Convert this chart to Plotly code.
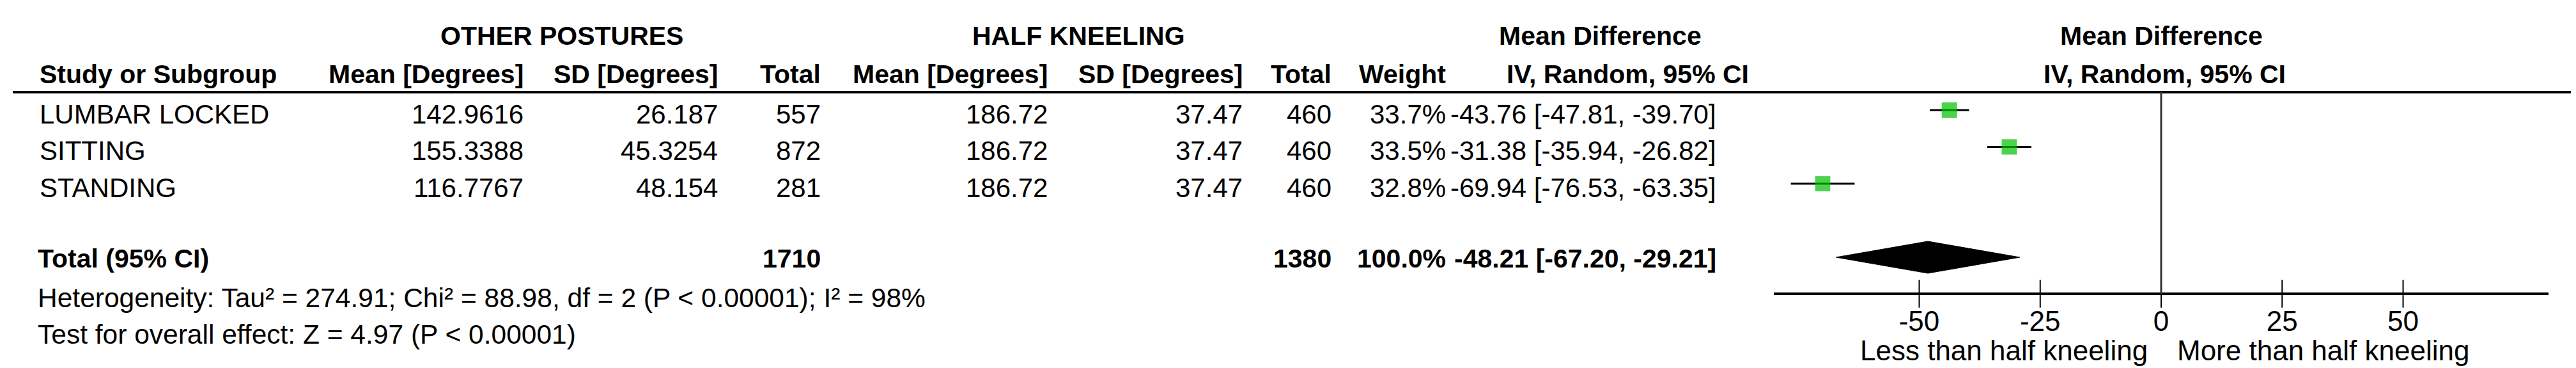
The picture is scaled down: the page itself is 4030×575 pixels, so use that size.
import plotly.graph_objects as go

W, H = 4030, 575

# ---- data ----
studies = ["LUMBAR LOCKED", "SITTING", "STANDING"]
mean_other = [142.9616, 155.3388, 116.7767]
sd_other = [26.187, 45.3254, 48.154]
n_other = [557, 872, 281]
mean_hk = [186.72, 186.72, 186.72]
sd_hk = [37.47, 37.47, 37.47]
n_hk = [460, 460, 460]
weights = [33.7, 33.5, 32.8]
md = [-43.76, -31.38, -69.94]
ci_lo = [-47.81, -35.94, -76.53]
ci_hi = [-39.70, -26.82, -63.35]
total_other = 1710
total_hk = 1380
total_weight = 100.0
pooled = -48.21
pooled_lo = -67.20
pooled_hi = -29.21
tick_vals = [-50, -25, 0, 25, 50]
heterogeneity = "Heterogeneity: Tau² = 274.91; Chi² = 88.98, df = 2 (P < 0.00001); I² = 98%"
overall = "Test for overall effect: Z = 4.97 (P < 0.00001)"
left_label = "Less than half kneeling"
right_label = "More than half kneeling"

# ---- layout constants (pixels) ----
FONT = "Liberation Sans, Arial, sans-serif"
FS = 42        # normal text
FSB = 41       # bold text
FS_AX = 44     # axis tick labels / favours labels
row0_px, row_h = 164, 57.5          # row 0 marker centre, row pitch
zero_px, px_unit = 3373, 7.57
x_min, x_max = -80, 80
axis_px = 451
head_line_px = 136
text_off = 6                         # text cap centre sits a bit below marker row

def py(px):
    return 1 - px / H

def px_x(px):
    return px / W

def row_px(r):
    return row0_px + row_h * r

study_rows = [0, 1, 2]
total_row = 4
axis_row = (axis_px - row0_px) / row_h

fig = go.Figure()

# study CI + squares
sizes = [24 * (w / max(weights)) ** 0.5 for w in weights]
fig.add_trace(go.Scatter(
    x=md, y=study_rows, mode="markers",
    marker=dict(symbol="square", size=sizes, color="#00C000", line=dict(width=0)),
    error_x=dict(type="data", symmetric=False,
                 array=[h - m for h, m in zip(ci_hi, md)],
                 arrayminus=[m - l for m, l in zip(md, ci_lo)],
                 color="black", thickness=3, width=0),
    hoverinfo="skip", showlegend=False))

# pooled diamond
dh = 25 / row_h
fig.add_trace(go.Scatter(
    x=[pooled_lo, pooled, pooled_hi, pooled, pooled_lo],
    y=[total_row, total_row - dh, total_row, total_row + dh, total_row],
    mode="lines", fill="toself", fillcolor="black",
    line=dict(color="black", width=1), hoverinfo="skip", showlegend=False))

# ticks crossing the axis line
fig.add_trace(go.Scatter(
    x=tick_vals, y=[axis_row] * len(tick_vals), mode="markers",
    marker=dict(symbol="line-ns", size=31, line=dict(color="black", width=2)),
    hoverinfo="skip", showlegend=False))

ann = []

def txt(x, y, s, anchor="right", bold=False, xref="paper", xshift=0, size=None):
    if size is None:
        size = FSB if bold else FS
    ann.append(dict(x=x, y=y, xref=xref, yref="paper", text=f"<b>{s}</b>" if bold else s,
                    showarrow=False, xanchor=anchor, yanchor="middle", xshift=xshift,
                    font=dict(family=FONT, size=size, color="black")))

# group headers
txt(px_x(871), py(48), "OTHER POSTURES", "center", True)
txt(px_x(1679), py(48), "HALF KNEELING", "center", True)
txt(px_x(2495), py(48), "Mean Difference", "center", True)
txt(px_x(3373), py(48), "Mean Difference", "center", True)

# column headers
hy = py(108)
txt(px_x(52), hy, "Study or Subgroup", "left", True)
txt(px_x(813), hy, "Mean [Degrees]", bold=True)
txt(px_x(1117), hy, "SD [Degrees]", bold=True)
txt(px_x(1278), hy, "Total", bold=True)
txt(px_x(1633), hy, "Mean [Degrees]", bold=True)
txt(px_x(1938), hy, "SD [Degrees]", bold=True)
txt(px_x(2077), hy, "Total", bold=True)
txt(px_x(2256), hy, "Weight", bold=True)
txt(px_x(2538), hy, "IV, Random, 95% CI", "center", True)
txt(px_x(3378), hy, "IV, Random, 95% CI", "center", True)

# study rows
for i, r in enumerate(study_rows):
    y = py(row_px(r) + text_off)
    txt(px_x(52), y, studies[i], "left")
    txt(px_x(813), y, str(mean_other[i]))
    txt(px_x(1117), y, str(sd_other[i]))
    txt(px_x(1278), y, str(n_other[i]))
    txt(px_x(1633), y, str(mean_hk[i]))
    txt(px_x(1938), y, str(sd_hk[i]))
    txt(px_x(2077), y, str(n_hk[i]))
    txt(px_x(2256), y, f"{weights[i]:.1f}%")
    txt(px_x(2679), y, f"{md[i]:.2f} [{ci_lo[i]:.2f}, {ci_hi[i]:.2f}]")

# total row
ty = py(row_px(total_row) + text_off - 4)
txt(px_x(49), ty, "Total (95% CI)", "left", True)
txt(px_x(1278), ty, str(total_other), bold=True)
txt(px_x(2077), ty, str(total_hk), bold=True)
txt(px_x(2256), ty, f"{total_weight:.1f}%", bold=True)
txt(px_x(2679), ty, f"{pooled:.2f} [{pooled_lo:.2f}, {pooled_hi:.2f}]", bold=True)

txt(px_x(49), py(457), heterogeneity, "left", size=42.5)
txt(px_x(49), py(514), overall, "left", size=42.5)

# favours labels
txt(0, py(539), left_label, "right", xref="x", xshift=-19, size=FS_AX)
txt(0, py(539), right_label, "left", xref="x", xshift=23, size=FS_AX)

shapes = [
    dict(type="line", xref="paper", yref="paper", x0=px_x(12), x1=1,
         y0=py(head_line_px), y1=py(head_line_px), line=dict(color="black", width=4)),
    dict(type="line", xref="x", yref="paper", x0=0, x1=0,
         y0=py(head_line_px), y1=py(axis_px), line=dict(color="#333333", width=3)),
]

d0 = (zero_px + x_min * px_unit) / W
d1 = (zero_px + x_max * px_unit) / W

fig.update_layout(
    width=W, height=H, margin=dict(l=0, r=0, t=0, b=0),
    paper_bgcolor="white", plot_bgcolor="white",
    annotations=ann, shapes=shapes,
    xaxis=dict(domain=[d0, d1], range=[x_min, x_max], anchor="free", position=py(axis_px),
               showline=True, linecolor="black", linewidth=4, showgrid=False, zeroline=False,
               tickvals=tick_vals, ticktext=[str(v) for v in tick_vals],
               ticks="", ticklabelstandoff=3,
               tickfont=dict(family=FONT, size=FS_AX, color="black")),
    yaxis=dict(domain=[0, 1], range=[(H - row0_px) / row_h, -row0_px / row_h],
               visible=False, showgrid=False, zeroline=False),
)

fig.write_html("out.html")
